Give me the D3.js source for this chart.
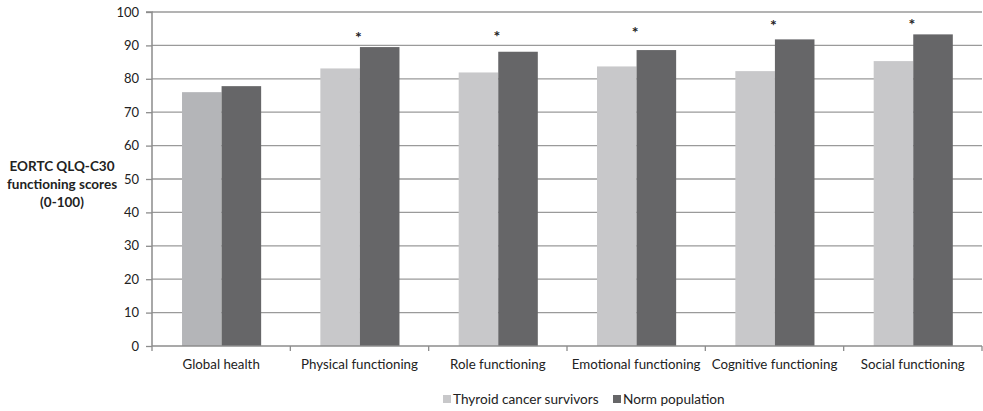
<!DOCTYPE html>
<html>
<head>
<meta charset="utf-8">
<script src="https://cdn.jsdelivr.net/npm/d3@7"></script>
<style>
  body { margin: 0; background: #fff; }
  text { font-family: Lato, "Open Sans", sans-serif; fill: #222; }
</style>
</head>
<body>
<div id="main"></div>
<script>
const ctx = {
    SVG_W: 983,
    SVG_H: 411,
    left: 152,
    right: 982,
    top: 12,
    bottom: 346,
};

const categories = ["Global health", "Physical functioning", "Role functioning",
    "Emotional functioning", "Cognitive functioning", "Social functioning"];
const seriesNames = ["Thyroid cancer survivors", "Norm population"];
const survivors = [76.0, 83.1, 81.9, 83.7, 82.3, 85.3];
const normPop = [77.8, 89.5, 88.1, 88.6, 91.8, 93.3];
// asterisk = significant difference; level (in score units)
const starLevels = [null, 92.9, 93.2, 94.3, 96.4, 96.6];
const yTicks = [0, 10, 20, 30, 40, 50, 60, 70, 80, 90, 100];

function createViz() {
    let svgEl = d3.select("#main").append("svg")
        .attr("width", ctx.SVG_W)
        .attr("height", ctx.SVG_H);

    let x0 = d3.scaleBand()
        .domain(categories)
        .range([ctx.left, ctx.right]);
    let bw = x0.bandwidth();
    let x1 = d3.scaleBand()
        .domain(seriesNames)
        .range([bw * 0.217, bw * 0.789]);
    let y = d3.scaleLinear()
        .domain([0, 100])
        .range([ctx.bottom, ctx.top]);

    let colors = { "Thyroid cancer survivors": "#c8c8ca", "Norm population": "#666668" };

    // gridlines
    svgEl.selectAll(".grid")
        .data(yTicks.filter(d => d > 0))
        .enter().append("line")
        .attr("x1", ctx.left).attr("x2", ctx.right)
        .attr("y1", d => y(d)).attr("y2", d => y(d))
        .attr("stroke", "#9a9a9a").attr("stroke-width", 1.3);

    // bars
    let rows = categories.map((c, i) => ({ cat: c, i: i, vals: [survivors[i], normPop[i]] }));
    let groups = svgEl.selectAll(".grp")
        .data(rows)
        .enter().append("g")
        .attr("transform", d => `translate(${x0(d.cat)},0)`);
    groups.selectAll("rect")
        .data(d => d.vals.map((v, k) => ({ s: seriesNames[k], v: v, i: d.i })))
        .enter().append("rect")
        .attr("x", d => x1(d.s))
        .attr("width", x1.bandwidth())
        .attr("y", d => y(d.v))
        .attr("height", d => y(0) - y(d.v))
        .attr("fill", d => (d.i === 0 && d.s === seriesNames[0]) ? "#b4b5b8" : colors[d.s]);

    // asterisks
    svgEl.selectAll(".star")
        .data(categories.map((c, i) => ({ cat: c, lv: starLevels[i] })).filter(d => d.lv !== null))
        .enter().append("text")
        .attr("x", d => x0(d.cat) + bw / 2 - 1)
        .attr("y", d => y(d.lv) + 7)
        .attr("text-anchor", "middle")
        .style("font-size", "16px")
        .style("font-weight", "bold")
        .text("*");

    // y axis
    let yAxis = d3.axisLeft(y).tickValues(yTicks).tickSize(6).tickPadding(7);
    let gy = svgEl.append("g").attr("transform", `translate(${ctx.left},0)`).call(yAxis);
    gy.select(".domain").attr("stroke", "#8c8c8c").attr("stroke-width", 1.5).attr("d", `M-6,${ctx.top}H0V${ctx.bottom}`);
    gy.selectAll(".tick line").attr("stroke", "#8c8c8c").attr("stroke-width", 1.3);
    gy.selectAll(".tick text").style("font-size", "13px").style("font-family", "Lato, sans-serif").attr("fill", "#222");

    // x axis
    let xTickPos = categories.map(c => x0(c)).concat([ctx.right]);
    svgEl.append("line")
        .attr("x1", ctx.left).attr("x2", ctx.right)
        .attr("y1", ctx.bottom).attr("y2", ctx.bottom)
        .attr("stroke", "#8c8c8c").attr("stroke-width", 1.5);
    svgEl.selectAll(".xtick")
        .data(xTickPos)
        .enter().append("line")
        .attr("x1", d => d).attr("x2", d => d)
        .attr("y1", ctx.bottom).attr("y2", ctx.bottom + 5)
        .attr("stroke", "#8c8c8c").attr("stroke-width", 1.3);
    svgEl.selectAll(".xlab")
        .data(categories)
        .enter().append("text")
        .attr("x", d => x0(d) + bw / 2)
        .attr("y", ctx.bottom + 23)
        .attr("text-anchor", "middle")
        .style("font-size", "13.3px")
        .text(d => d);

    // y title
    let title = svgEl.append("text")
        .attr("x", 62).attr("y", 171)
        .attr("text-anchor", "middle")
        .style("font-size", "13.5px")
        .style("font-weight", "bold");
    ["EORTC QLQ-C30", "functioning scores", "(0-100)"].forEach((t, k) => {
        title.append("tspan").attr("x", 62).attr("dy", k === 0 ? 0 : 18).text(t);
    });

    // legend
    let leg = svgEl.append("g").attr("transform", "translate(443,399)");
    let legX = [0, 170];
    seriesNames.forEach((s, k) => {
        leg.append("rect").attr("x", legX[k]).attr("y", -4).attr("width", 8).attr("height", 8).attr("fill", colors[s]);
        leg.append("text").attr("x", legX[k] + 10).attr("y", 4.5).style("font-size", "13.6px").text(s);
    });
}

createViz();
</script>
</body>
</html>
